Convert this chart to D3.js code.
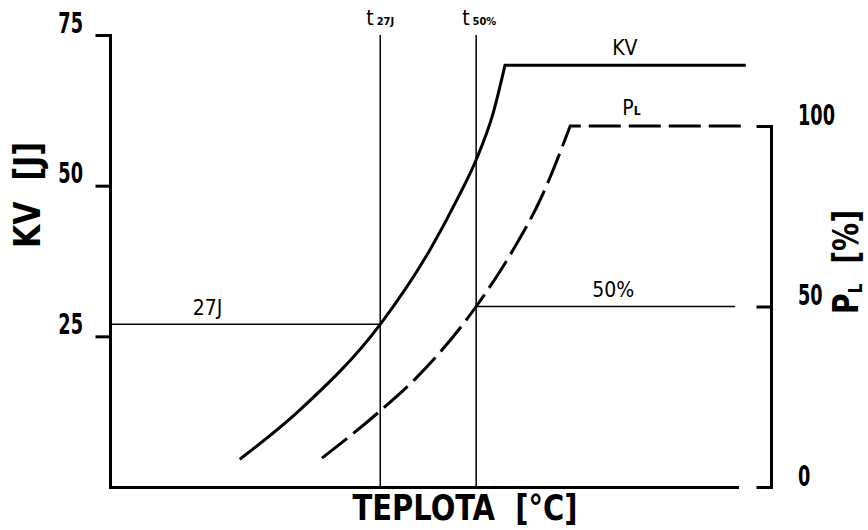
<!DOCTYPE html>
<html>
<head>
<meta charset="utf-8">
<script src="https://cdn.jsdelivr.net/npm/d3@7"></script>
<style>
  html, body { margin: 0; padding: 0; background: #fff; }
  svg { display: block; }
</style>
</head>
<body>
<div id="chart"></div>
<script>
// KV (impact energy) transition curve
const kvTemp = [20.7, 30.3, 43.1, 51.0, 55.3, 58.4, 61.1, 63.0];
const kvValues = [4.6, 12.8, 27, 39.3, 47.6, 54.3, 62, 70];
const kvShelfEnd = 101.4;

// P_L (ductile fracture share) curve
const plTemp = [33.8, 42.7, 49.0, 58.4, 64.3, 68.6, 73.4];
const plValues = [8.0, 20.5, 30.5, 50, 65.7, 79.5, 100];
const plShelfEnd = 101.6;

const kvTicks = [25, 50, 75];
const plTicks = [0, 50, 100];

// reference lines
const t27J = 43.1;
const t50 = 58.4;
const kvRef = 27;
const plRef = 50;
const refEnd = 99.7;

const W = 868, H = 530;
const boldFont = "'DejaVu Sans Condensed', 'DejaVu Sans', sans-serif";
const thinFont = "'DejaVu Sans Condensed', 'DejaVu Sans', sans-serif";

const x = d3.scaleLinear().domain([0, 100]).range([110, 737]);
const yKV = d3.scaleLinear().domain([0, 75]).range([487, 35]);
const yPL = d3.scaleLinear().domain([0, 100]).range([487, 126]);
const rightX = 771;

const svg = d3.select('#chart').append('svg')
  .attr('width', W).attr('height', H);

// thin reference lines
const thin = svg.append('g').attr('stroke', '#000').attr('stroke-width', 1.5).attr('fill', 'none');
[t27J, t50].forEach(t => {
  thin.append('line')
    .attr('x1', x(t)).attr('x2', x(t))
    .attr('y1', yKV(75)).attr('y2', yKV(0));
});
thin.append('line')
  .attr('x1', x(0)).attr('x2', x(t27J))
  .attr('y1', yKV(kvRef)).attr('y2', yKV(kvRef));
thin.append('line')
  .attr('x1', x(t50)).attr('x2', x(refEnd))
  .attr('y1', yPL(plRef)).attr('y2', yPL(plRef));

// axes
const styleAxis = g => {
  g.select('.domain').attr('stroke-width', 3).attr('stroke-linecap', 'square');
  g.selectAll('.tick line').attr('stroke-width', 3).attr('stroke-linecap', 'square');
  g.selectAll('.tick text')
    .attr('font-family', boldFont).attr('font-weight', 'bold')
    .attr('font-size', 29).attr('fill', '#000')
    .attr('x', 0).attr('y', 0).attr('dy', null);
};

// narrow the tick numbers like the technical lettering of the original
svg.append('g')
  .attr('transform', `translate(${x(0)},0)`)
  .call(d3.axisLeft(yKV).tickValues(kvTicks).tickSize(13).tickSizeOuter(0))
  .call(styleAxis)
  .call(g => g.selectAll('.tick text').attr('transform', 'translate(-27,-3) scale(0.68,1)'));

svg.append('g')
  .attr('transform', `translate(${rightX},0)`)
  .call(d3.axisRight(yPL).tickValues(plTicks).tickSizeInner(-13).tickSizeOuter(0))
  .call(styleAxis)
  .call(g => g.selectAll('.tick text').attr('transform', 'translate(27,-2) scale(0.68,1)'));

svg.append('g')
  .attr('transform', `translate(0,${yKV(0)})`)
  .call(d3.axisBottom(x).tickValues([]).tickSizeOuter(0))
  .call(styleAxis);

// curves
const kvLine = d3.line()
  .x((d, i) => x(kvTemp[i])).y(d => yKV(d))
  .curve(d3.curveMonotoneX);
const kvTop = kvValues[kvValues.length - 1];
svg.append('path')
  .attr('d', kvLine(kvValues) + `L${x(kvShelfEnd)},${yKV(kvTop)}`)
  .attr('fill', 'none').attr('stroke', '#000').attr('stroke-width', 3);

const plLine = d3.line()
  .x((d, i) => x(plTemp[i])).y(d => yPL(d))
  .curve(d3.curveMonotoneX);
const plTop = plValues[plValues.length - 1];
svg.append('path')
  .attr('d', plLine(plValues) + `L${x(plShelfEnd)},${yPL(plTop)}`)
  .attr('fill', 'none').attr('stroke', '#000').attr('stroke-width', 3)
  .attr('stroke-dasharray', '32,8');

// curve / line labels
const label = (tx, ty, txt, size) => svg.append('text')
  .attr('x', tx).attr('y', ty)
  .attr('font-family', thinFont).attr('font-size', size || 21)
  .attr('fill', '#000').text(txt);

label(x(80.1), yKV(kvTop) - 10, 'KV');
const pl = label(x(81.7), yPL(plTop) - 11, 'P');
pl.append('tspan').attr('font-size', 12).attr('font-weight', 'bold').text('L');
label(x(13.2), yKV(kvRef) - 9, '27J');
label(x(76.9), yPL(plRef) - 10, '50%');

const tLabel = (t, sub) => {
  const el = svg.append('text')
    .attr('x', x(t) - 14).attr('y', 25)
    .attr('font-family', thinFont).attr('font-size', 21).attr('fill', '#000')
    .text('t');
  el.append('tspan').attr('dx', 3).attr('font-size', 11).attr('font-weight', 'bold')
    .text(sub);
};
tLabel(t27J, '27J');
tLabel(t50, '50%');

// axis titles
const title = svg.append('g')
  .attr('font-family', boldFont).attr('font-weight', 'bold')
  .attr('fill', '#000').attr('font-size', 38);

title.append('text')
  .attr('x', 465).attr('y', 520)
  .attr('text-anchor', 'middle')
  .attr('font-size', 36)
  .attr('textLength', 225).attr('lengthAdjust', 'spacingAndGlyphs')
  .attr('xml:space', 'preserve')
  .text('TEPLOTA  [°C]');

title.append('text')
  .attr('transform', 'translate(40,195) rotate(-90)')
  .attr('text-anchor', 'middle')
  .attr('textLength', 106).attr('lengthAdjust', 'spacingAndGlyphs')
  .attr('xml:space', 'preserve')
  .text('KV  [J]');

const plTitle = title.append('text')
  .attr('transform', 'translate(858,262) rotate(-90)')
  .attr('text-anchor', 'middle')
  .attr('font-size', 36)
  .attr('textLength', 104).attr('lengthAdjust', 'spacingAndGlyphs')
  .attr('xml:space', 'preserve');
plTitle.append('tspan').text('P');
plTitle.append('tspan').attr('font-size', 20).attr('dy', 4).text('L');
plTitle.append('tspan').attr('dy', -4).text('  [%]');
</script>
</body>
</html>
